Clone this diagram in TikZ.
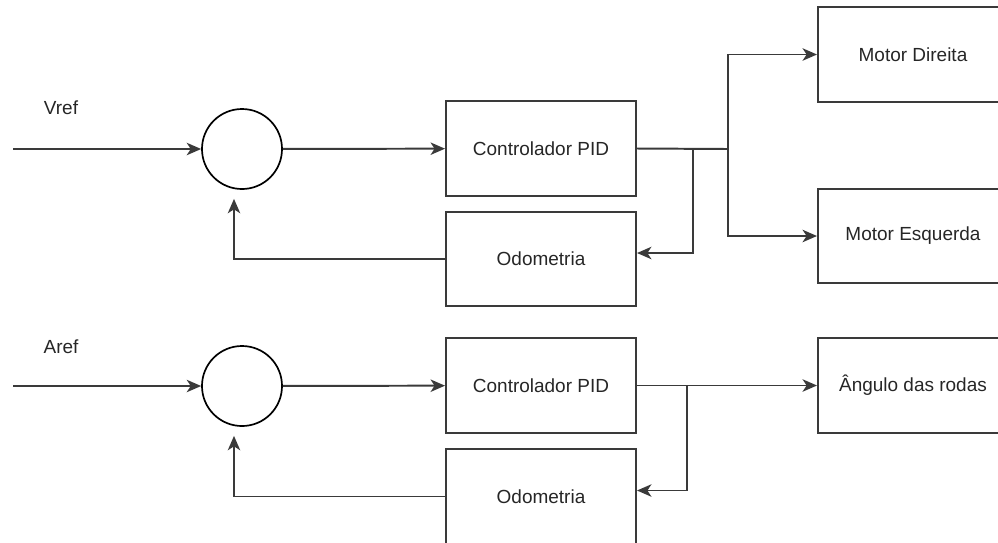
\documentclass[tikz,border=0pt]{standalone}
\usepackage{fontspec}
\setmainfont{Liberation Sans}
\usetikzlibrary{arrows.meta}

\newcommand{\boxW}{4.75cm}
\newcommand{\boxH}{2.37cm}
\newcommand{\sumD}{2.0cm}
\newcommand{\linThick}{1.4pt}
\newcommand{\labFont}{\fontsize{13.5}{16}\selectfont}

\definecolor{lineGray}{HTML}{3A3A3A}

\begin{document}
\begin{tikzpicture}[x=0.025cm, y=-0.025cm,
    blockbox/.style={draw=lineGray, line width=\linThick, minimum width=\boxW, minimum height=\boxH, inner sep=0pt, font=\labFont, text=black!85},
    sumnode/.style={draw, circle, line width=1.2pt, minimum size=\sumD, inner sep=0pt},
    reflabel/.style={font=\labFont, inner sep=0pt, text=black!85},
    sigline/.style={draw=lineGray, line width=\linThick, -{Stealth[length=3.6mm, width=3.1mm, inset=1mm]}},
    plainline/.style={draw=lineGray, line width=\linThick}]

  \clip (0,0) rectangle (998,542);

  % Speed loop:
    % Blocks:
    \node[sumnode]  (sumV)   at (242,149)   {};
    \node[blockbox] (pidV)   at (541,148.5) {Controlador PID};
    \node[blockbox] (odoV)   at (541,259)   {Odometria};
    \node[blockbox] (motDir) at (913,54.5)  {Motor Direita};
    \node[blockbox] (motEsq) at (913,236)   {Motor Esquerda};
    \node[reflabel] (vrefLab) at (61,108)   {Vref};
    % Branch points:
    \coordinate (inV)    at (13,149);
    \coordinate (fbV)    at (693,149);
    \coordinate (splitV) at (728,149);
    % Lines:
    \draw[sigline]   (inV) -- (sumV);
    \draw[sigline]   (sumV) -- (pidV);
    \draw[plainline] (pidV.east) -- (splitV);
    \draw[sigline]   (splitV) |- (motDir.west);
    \draw[sigline]   (splitV) |- (motEsq.west);
    \draw[sigline]   (fbV) |- ([yshift=0.15cm]odoV.east);
    \draw[sigline]   (odoV.west) -| ([xshift=-0.2cm, yshift=-0.225cm]sumV.south);

  % Angle loop:
    % Blocks:
    \node[sumnode]  (sumA)     at (242,386)   {};
    \node[blockbox] (pidA)     at (541,385.5) {Controlador PID};
    \node[blockbox] (odoA)     at (541,496.5) {Odometria};
    \node[blockbox] (angRodas) at (913,385.5) {Ângulo das rodas};
    \node[reflabel] (arefLab)  at (61,347)    {Aref};
    % Branch points:
    \coordinate (inA) at (13,386);
    \coordinate (fbA) at (687,386);
    % Lines:
    \draw[sigline]   (inA) -- (sumA);
    \draw[sigline]   (sumA) -- (pidA);
    \draw[sigline]   (pidA) -- (angRodas);
    \draw[sigline]   (fbA) |- ([yshift=0.15cm]odoA.east);
    \draw[sigline]   (odoA.west) -| ([xshift=-0.2cm, yshift=-0.225cm]sumA.south);

\end{tikzpicture}
\end{document}
